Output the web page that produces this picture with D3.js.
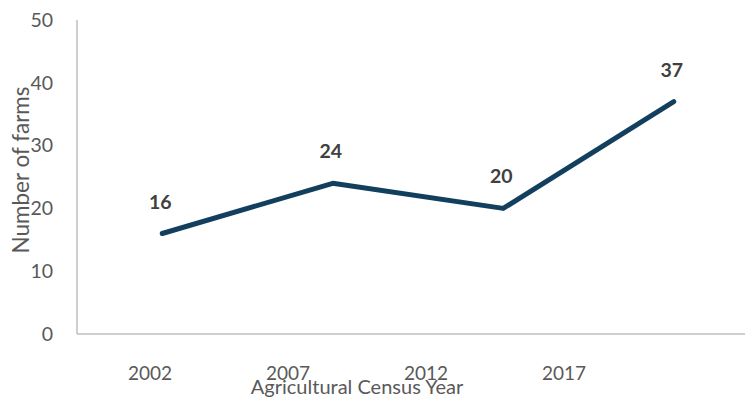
<!DOCTYPE html>
<html><head><meta charset="utf-8">
<script src="https://cdn.jsdelivr.net/npm/d3@7"></script>
<style>body{margin:0;background:#fff}svg{display:block}</style>
</head><body>
<svg id="c" width="745" height="401"></svg>
<script>
const years = ["2002", "2007", "2012", "2017"];
const farms = [16, 24, 20, 37];
const yTicks = [0, 10, 20, 30, 40, 50];
const xTitle = "Agricultural Census Year";
const yTitle = "Number of farms";

(function () {
const svg = d3.select("#c");
const font = "Lato, 'Open Sans', sans-serif";
const mLeft = 77, mTop = 20, mBottom = 334;

const y = d3.scaleLinear().domain([0, 50]).range([mBottom, mTop]);
const x = d3.scaleBand().domain(years).range([mLeft, 759]);
const xLab = d3.scaleBand().domain(years).range([81, 633]);

// axes lines
svg.append("line").attr("x1", mLeft).attr("x2", mLeft).attr("y1", y(50)).attr("y2", y(0))
  .attr("stroke", "#bfbfbf").attr("stroke-width", 1.5);
svg.append("line").attr("x1", mLeft).attr("x2", 745).attr("y1", y(0)).attr("y2", y(0))
  .attr("stroke", "#bfbfbf").attr("stroke-width", 1.5);

// y tick labels
const ya = svg.append("g").attr("transform", `translate(${mLeft - 24},0)`)
  .call(d3.axisLeft(y).tickValues(yTicks).tickSize(0).tickPadding(0));
ya.select(".domain").remove();
ya.selectAll("text").attr("font-family", font).attr("font-size", 19.5).attr("fill", "#595959");

// x tick labels
const xa = svg.append("g").attr("transform", `translate(0,${y(0) + 32})`)
  .call(d3.axisBottom(xLab).tickSize(0).tickPadding(0));
xa.select(".domain").remove();
xa.selectAll("text").attr("font-family", font).attr("font-size", 19).attr("fill", "#595959");

// titles
svg.append("text").attr("x", 357).attr("y", 394).attr("text-anchor", "middle")
  .attr("font-family", font).attr("font-size", 20).attr("fill", "#595959").text(xTitle);
svg.append("text").attr("transform", "translate(29,170) rotate(-90)").attr("text-anchor", "middle")
  .attr("font-family", font).attr("font-size", 22.5).attr("fill", "#595959").text(yTitle);

// line
const pts = years.map((d, i) => [x(d) + x.bandwidth() / 2, y(farms[i])]);
svg.append("path").attr("d", d3.line()(pts)).attr("fill", "none")
  .attr("stroke", "#133f5e").attr("stroke-width", 5).attr("stroke-linecap", "round")
  .attr("stroke-linejoin", "round");

// data labels
svg.selectAll(".dl").data(farms).join("text").attr("class", "dl")
  .attr("x", (d, i) => pts[i][0] - 2).attr("y", (d, i) => pts[i][1] - 25)
  .attr("text-anchor", "middle").attr("font-family", font).attr("font-weight", "bold")
  .attr("font-size", 19.5).attr("fill", "#404040").text(d => d);
})();
</script>
</body></html>
